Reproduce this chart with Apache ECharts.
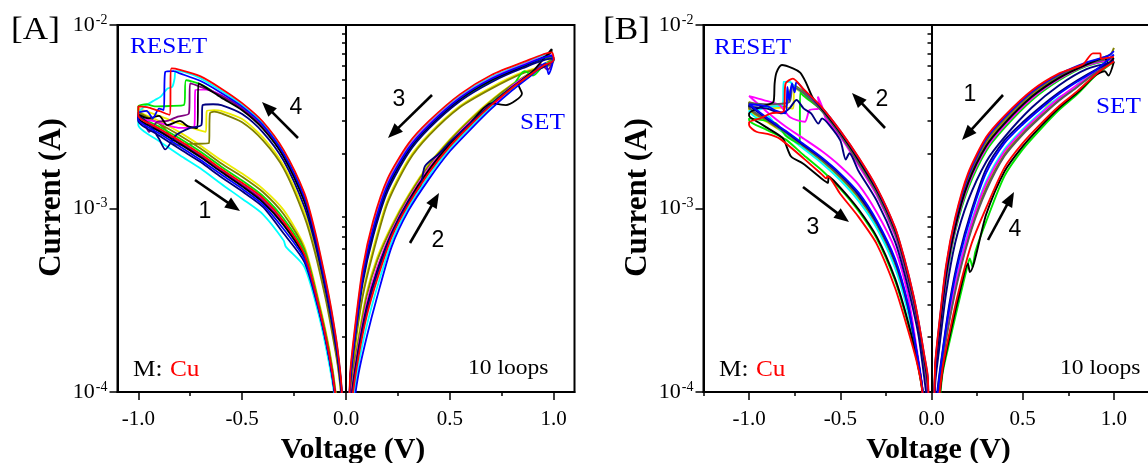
<!DOCTYPE html>
<html><head><meta charset="utf-8">
<script src="https://cdn.jsdelivr.net/npm/echarts@6/dist/echarts.min.js"></script>
<style>html,body{margin:0;padding:0;background:#fff}#c{width:1148px;height:463px}</style>
</head><body><div id="c"></div>
<script>
// ---- tick values ----
const xTicks = [-1.0, -0.5, 0.0, 0.5, 1.0];
const xMinorA = [-0.75, -0.25, 0.25, 0.75];
const xMinorB = [-1.25, -0.75, -0.25, 0.25, 0.75, 1.25];
const yTicks = [1e-4, 1e-3, 1e-2];
const yMinor = [2e-4,3e-4,4e-4,5e-4,6e-4,7e-4,8e-4,9e-4,2e-3,3e-3,4e-3,5e-3,6e-3,7e-3,8e-3,9e-3];

// ---- panel A loops: [voltage V, current mA] ----
const aRed = [[0.01,0.03],[0.03,0.09],[0.06,0.155],[0.1,0.26],[0.15,0.41],[0.22,0.7],[0.3,1.05],[0.4,1.57],[0.5,2.18],[0.6,2.86],[0.7,3.66],[0.8,4.54],[0.9,5.48],[0.95,6.0],[1.0,6.45],
[0.99,7.1],[0.85,6.25],[0.7,5.34],[0.55,4.2],[0.4,3.0],[0.3,2.25],[0.2,1.45],[0.13,0.85],[0.08,0.47],[0.04,0.21],[0.02,0.125],[0.005,0.03],
[-0.008,0.03],[-0.02,0.1],[-0.04,0.17],[-0.07,0.28],[-0.1,0.42],[-0.15,0.76],[-0.2,1.21],[-0.3,2.08],[-0.4,2.97],[-0.5,3.75],[-0.6,4.5],[-0.7,5.25],[-0.8,5.7],[-0.84,5.8],[-0.85,3.24],[-0.9,3.4],[-0.95,3.55],[-1.0,3.6],
[-1.0,3.2],[-0.9,2.73],[-0.8,2.34],[-0.7,1.98],[-0.6,1.64],[-0.5,1.38],[-0.4,1.14],[-0.3,0.85],[-0.2,0.56],[-0.13,0.29],[-0.08,0.158],[-0.05,0.094],[-0.01,0.03]];
const aCyan = [[0.01,0.03],[0.03,0.08],[0.06,0.14],[0.1,0.23],[0.15,0.372],[0.22,0.658],[0.3,1.01],[0.4,1.51],[0.5,2.12],[0.6,2.78],[0.7,3.58],[0.8,4.47],[0.9,5.44],[0.95,6.1],[1.0,6.36],
[0.98,6.95],[0.85,6.13],[0.7,5.21],[0.55,4.11],[0.4,2.93],[0.3,2.18],[0.2,1.39],[0.13,0.81],[0.08,0.45],[0.04,0.2],[0.02,0.12],[0.005,0.03],
[-0.008,0.03],[-0.02,0.099],[-0.04,0.167],[-0.07,0.274],[-0.1,0.411],[-0.15,0.742],[-0.2,1.18],[-0.3,2.04],[-0.4,2.91],[-0.5,3.67],[-0.6,4.38],[-0.7,5.12],[-0.78,5.55],[-0.82,5.6],[-0.825,5.12],[-0.836,4.61],[-0.86,4.5],[-0.892,4.07],[-0.92,3.9],[-0.948,3.74],[-0.97,3.6],[-1.0,3.3],
[-1.0,2.85],[-0.9,2.33],[-0.8,1.95],[-0.7,1.65],[-0.6,1.36],[-0.5,1.13],[-0.4,0.93],[-0.3,0.67],[-0.29,0.62],[-0.2,0.48],[-0.13,0.26],[-0.08,0.14],[-0.05,0.085],[-0.01,0.03]];
const aBlue = [[0.01,0.03],[0.03,0.07],[0.06,0.125],[0.1,0.2],[0.15,0.33],[0.22,0.62],[0.3,0.97],[0.4,1.45],[0.5,2.05],[0.6,2.7],[0.7,3.5],[0.8,4.4],[0.9,5.4],[0.96,6.2],[0.975,5.4],[0.995,6.3],
[0.99,6.8],[0.85,6.01],[0.7,5.09],[0.55,4.01],[0.4,2.85],[0.3,2.12],[0.2,1.34],[0.13,0.77],[0.08,0.43],[0.04,0.19],[0.02,0.117],[0.005,0.03],
[-0.008,0.03],[-0.02,0.097],[-0.04,0.164],[-0.07,0.268],[-0.1,0.4],[-0.15,0.724],[-0.2,1.15],[-0.3,1.99],[-0.4,2.85],[-0.5,3.59],[-0.6,4.26],[-0.7,4.95],[-0.8,5.45],[-0.83,5.6],[-0.87,5.55],[-0.878,3.44],[-0.9,3.5],[-0.93,3.1],[-0.96,3.4],[-1.0,3.3],
[-1.0,3.06],[-0.9,2.57],[-0.8,2.18],[-0.7,1.84],[-0.6,1.53],[-0.5,1.28],[-0.4,1.05],[-0.3,0.77],[-0.2,0.53],[-0.13,0.28],[-0.08,0.152],[-0.05,0.09],[-0.01,0.03]];
const aGreen = [[0.01,0.03],[0.03,0.1],[0.06,0.174],[0.1,0.297],[0.15,0.467],[0.22,0.744],[0.3,1.106],[0.4,1.645],[0.5,2.26],[0.6,2.96],[0.7,3.76],[0.8,4.63],[0.86,5.6],[0.9,5.3],[0.95,6.0],[1.0,6.5],
[0.99,6.65],[0.85,5.89],[0.7,4.96],[0.55,3.92],[0.4,2.78],[0.3,2.05],[0.2,1.28],[0.13,0.72],[0.08,0.41],[0.04,0.19],[0.02,0.112],[0.005,0.03],
[-0.008,0.03],[-0.02,0.095],[-0.04,0.16],[-0.07,0.259],[-0.1,0.389],[-0.15,0.697],[-0.2,1.1],[-0.3,1.93],[-0.4,2.75],[-0.5,3.47],[-0.6,4.08],[-0.7,4.75],[-0.77,5.0],[-0.78,3.66],[-0.85,3.62],[-0.92,3.6],[-0.96,3.7],[-1.0,3.6],
[-1.0,3.26],[-0.9,2.8],[-0.8,2.41],[-0.7,2.04],[-0.6,1.69],[-0.5,1.42],[-0.4,1.17],[-0.3,0.88],[-0.2,0.58],[-0.13,0.295],[-0.08,0.16],[-0.05,0.095],[-0.01,0.03]];
const aMagenta = [[0.01,0.03],[0.03,0.105],[0.06,0.178],[0.1,0.305],[0.15,0.477],[0.22,0.753],[0.3,1.117],[0.4,1.66],[0.5,2.28],[0.6,2.98],[0.65,3.3],[0.68,3.65],[0.72,3.75],[0.8,4.65],[0.9,5.54],[1.0,6.51],
[0.99,6.85],[0.85,6.05],[0.7,5.13],[0.55,4.04],[0.4,2.88],[0.3,2.14],[0.2,1.36],[0.13,0.78],[0.08,0.44],[0.04,0.2],[0.02,0.118],[0.005,0.03],
[-0.008,0.03],[-0.02,0.096],[-0.04,0.161],[-0.07,0.262],[-0.1,0.393],[-0.15,0.706],[-0.2,1.12],[-0.3,1.95],[-0.4,2.78],[-0.5,3.51],[-0.6,4.14],[-0.67,4.45],[-0.725,4.42],[-0.73,2.8],[-0.8,2.75],[-0.86,2.85],[-0.93,3.0],[-1.0,3.1],
[-1.0,3.17],[-0.9,2.7],[-0.8,2.31],[-0.7,1.95],[-0.6,1.62],[-0.5,1.36],[-0.4,1.12],[-0.3,0.83],[-0.2,0.56],[-0.13,0.287],[-0.08,0.156],[-0.05,0.093],[-0.01,0.03]];
const aPurple = [[0.01,0.03],[0.03,0.095],[0.06,0.163],[0.1,0.275],[0.15,0.435],[0.22,0.715],[0.3,1.075],[0.4,1.6],[0.5,2.215],[0.6,2.9],[0.7,3.7],[0.8,4.58],[0.9,5.5],[0.94,6.1],[0.97,5.7],[1.0,6.6],
[0.99,6.75],[0.85,5.97],[0.7,5.05],[0.55,3.98],[0.4,2.83],[0.3,2.09],[0.2,1.32],[0.13,0.75],[0.08,0.42],[0.04,0.19],[0.02,0.115],[0.005,0.03],
[-0.008,0.03],[-0.02,0.096],[-0.04,0.16],[-0.07,0.26],[-0.1,0.39],[-0.15,0.7],[-0.2,1.11],[-0.3,1.94],[-0.4,2.77],[-0.5,3.5],[-0.6,4.12],[-0.7,4.6],[-0.75,4.81],[-0.756,3.3],[-0.81,3.17],[-0.86,3.0],[-0.908,2.97],[-0.948,2.62],[-0.97,2.9],[-1.0,3.05],
[-1.0,3.15],[-0.9,2.67],[-0.8,2.28],[-0.7,1.93],[-0.6,1.6],[-0.5,1.34],[-0.4,1.1],[-0.3,0.82],[-0.2,0.55],[-0.13,0.285],[-0.08,0.155],[-0.05,0.092],[-0.01,0.03]];
const aBlack = [[0.01,0.03],[0.03,0.1],[0.06,0.17],[0.1,0.29],[0.15,0.456],[0.22,0.734],[0.3,1.096],[0.4,1.63],[0.5,2.25],[0.6,2.94],[0.7,3.74],[0.77,3.66],[0.847,4.24],[0.83,4.72],[0.9,5.6],[0.99,7.4],
[0.99,7.2],[0.85,5.93],[0.7,5.0],[0.55,3.95],[0.4,2.8],[0.3,2.07],[0.2,1.3],[0.13,0.74],[0.08,0.41],[0.04,0.19],[0.02,0.114],[0.005,0.03],
[-0.008,0.03],[-0.02,0.094],[-0.04,0.158],[-0.07,0.256],[-0.1,0.384],[-0.15,0.688],[-0.2,1.09],[-0.3,1.91],[-0.4,2.72],[-0.5,3.43],[-0.6,4.02],[-0.68,4.6],[-0.71,4.81],[-0.716,2.74],[-0.76,2.8],[-0.8,3.0],[-0.86,2.85],[-0.9,3.2],[-0.95,3.1],[-1.0,3.25],
[-1.0,3.12],[-0.9,2.64],[-0.8,2.25],[-0.7,1.9],[-0.6,1.58],[-0.5,1.32],[-0.4,1.08],[-0.3,0.81],[-0.2,0.54],[-0.13,0.283],[-0.08,0.154],[-0.05,0.092],[-0.01,0.03]];
const aNavy = [[0.01,0.03],[0.03,0.0975],[0.06,0.166],[0.1,0.282],[0.15,0.445],[0.22,0.725],[0.3,1.086],[0.36,1.35],[0.38,1.7],[0.45,2.0],[0.5,2.3],[0.6,2.92],[0.7,3.72],[0.8,4.59],[0.9,5.51],[1.0,6.47],
[0.99,6.55],[0.85,5.81],[0.7,4.88],[0.55,3.85],[0.4,2.73],[0.3,2.0],[0.2,1.24],[0.13,0.7],[0.08,0.39],[0.04,0.185],[0.02,0.11],[0.005,0.03],
[-0.008,0.03],[-0.02,0.091],[-0.04,0.152],[-0.07,0.244],[-0.1,0.366],[-0.15,0.652],[-0.2,1.02],[-0.3,1.82],[-0.4,2.6],[-0.5,3.27],[-0.6,3.66],[-0.64,3.7],[-0.69,3.66],[-0.696,2.85],[-0.75,2.75],[-0.82,2.5],[-0.87,2.1],[-0.9,2.4],[-0.95,2.9],[-1.0,3.2],
[-1.0,3.0],[-0.9,2.5],[-0.8,2.11],[-0.7,1.79],[-0.6,1.48],[-0.5,1.24],[-0.4,1.02],[-0.3,0.73],[-0.2,0.51],[-0.13,0.276],[-0.08,0.151],[-0.05,0.09],[-0.01,0.03]];
const aYellow = [[0.01,0.03],[0.03,0.12],[0.06,0.2],[0.1,0.35],[0.15,0.54],[0.22,0.81],[0.3,1.18],[0.4,1.75],[0.5,2.38],[0.6,3.1],[0.7,3.9],[0.8,4.75],[0.9,5.6],[1.0,6.6],
[0.99,6.2],[0.85,5.53],[0.7,4.58],[0.55,3.63],[0.4,2.55],[0.3,1.85],[0.2,1.11],[0.13,0.6],[0.08,0.34],[0.04,0.17],[0.02,0.1],[0.005,0.03],
[-0.008,0.03],[-0.02,0.087],[-0.04,0.144],[-0.07,0.229],[-0.1,0.344],[-0.15,0.607],[-0.2,0.95],[-0.3,1.71],[-0.4,2.44],[-0.5,3.07],[-0.6,3.4],[-0.635,3.44],[-0.67,3.4],[-0.675,2.62],[-0.72,2.7],[-0.8,2.9],[-0.9,3.2],[-1.0,3.5],
[-1.0,3.44],[-0.9,3.0],[-0.8,2.6],[-0.7,2.2],[-0.6,1.83],[-0.5,1.55],[-0.4,1.28],[-0.3,0.98],[-0.2,0.62],[-0.13,0.31],[-0.08,0.17],[-0.05,0.1],[-0.01,0.03]];
const aOlive = [[0.01,0.03],[0.03,0.115],[0.06,0.19],[0.1,0.335],[0.15,0.52],[0.22,0.79],[0.3,1.16],[0.4,1.72],[0.5,2.35],[0.6,3.06],[0.7,3.86],[0.8,4.72],[0.9,5.58],[1.0,6.57],
[0.99,6.1],[0.85,5.45],[0.7,4.5],[0.55,3.57],[0.4,2.5],[0.3,1.8],[0.2,1.07],[0.13,0.57],[0.08,0.33],[0.04,0.165],[0.02,0.097],[0.005,0.03],
[-0.008,0.03],[-0.02,0.085],[-0.04,0.14],[-0.07,0.22],[-0.1,0.33],[-0.15,0.58],[-0.2,0.9],[-0.3,1.65],[-0.4,2.35],[-0.5,2.95],[-0.6,3.3],[-0.635,3.37],[-0.655,3.3],[-0.66,2.27],[-0.74,2.25],[-0.82,2.22],[-0.86,2.62],[-0.9,2.9],[-0.95,3.1],[-1.0,3.3],
[-1.0,3.35],[-0.9,2.9],[-0.8,2.5],[-0.7,2.12],[-0.6,1.76],[-0.5,1.49],[-0.4,1.23],[-0.3,0.93],[-0.2,0.6],[-0.13,0.3],[-0.08,0.166],[-0.05,0.098],[-0.01,0.03]];

// ---- panel B loops: [voltage V, current mA] ----
const bRed = [[1.0,6.7],[0.93,6.55],[0.925,7.0],[0.885,7.0],[0.83,6.1],[0.7,5.45],[0.55,4.4],[0.4,3.2],[0.3,2.45],[0.2,1.55],[0.13,0.89],[0.08,0.49],[0.04,0.225],[0.02,0.14],[0.005,0.03],
[-0.005,0.03],[-0.02,0.12],[-0.04,0.16],[-0.07,0.24],[-0.1,0.34],[-0.15,0.54],[-0.2,0.79],[-0.3,1.3],[-0.4,1.9],[-0.5,2.65],[-0.6,3.55],[-0.7,4.45],[-0.76,5.1],[-0.8,4.8],[-0.81,3.4],[-0.88,3.3],[-0.94,3.1],[-1.0,2.95],
[-1.0,2.85],[-0.96,2.62],[-0.9,2.55],[-0.834,2.41],[-0.7,1.87],[-0.6,1.53],[-0.577,1.46],[-0.57,1.5],[-0.5,1.2],[-0.4,0.9],[-0.3,0.64],[-0.2,0.37],[-0.13,0.22],[-0.08,0.145],[-0.05,0.1],[-0.01,0.03],
[0.01,0.03],[0.03,0.067],[0.06,0.133],[0.1,0.214],[0.15,0.358],[0.22,0.644],[0.3,1.01],[0.4,1.67],[0.5,2.27],[0.6,2.9],[0.7,3.62],[0.8,4.36],[0.9,5.38],[1.0,6.32]];
const bBlack = [[1.0,6.6],[0.97,6.2],[0.95,6.6],[0.85,6.08],[0.7,5.15],[0.55,4.06],[0.4,2.9],[0.3,2.19],[0.2,1.37],[0.13,0.79],[0.08,0.432],[0.04,0.201],[0.02,0.128],[0.005,0.03],
[-0.005,0.03],[-0.02,0.112],[-0.04,0.152],[-0.07,0.232],[-0.1,0.328],[-0.15,0.522],[-0.2,0.764],[-0.3,1.26],[-0.4,1.84],[-0.5,2.59],[-0.6,3.48],[-0.65,4.0],[-0.69,4.9],[-0.72,5.5],[-0.76,5.8],[-0.82,6.05],[-0.85,5.5],[-0.86,4.81],[-0.866,3.82],[-0.93,3.6],[-1.0,3.3],
[-1.0,3.2],[-0.95,2.95],[-0.9,2.75],[-0.815,2.41],[-0.77,1.92],[-0.705,1.76],[-0.6,1.45],[-0.567,1.38],[-0.565,1.5],[-0.5,1.3],[-0.4,0.99],[-0.3,0.7],[-0.2,0.416],[-0.13,0.244],[-0.08,0.15],[-0.05,0.101],[-0.01,0.03],
[0.01,0.03],[0.03,0.064],[0.06,0.129],[0.1,0.202],[0.15,0.334],[0.2,0.5],[0.21,0.45],[0.3,0.93],[0.4,1.59],[0.5,2.18],[0.6,2.81],[0.7,3.54],[0.8,4.28],[0.9,5.34],[0.95,5.6],[0.97,5.3],[1.0,6.31]];
const bBlue = [[1.0,7.2],[0.97,6.8],[0.85,6.25],[0.7,5.38],[0.55,4.32],[0.4,3.13],[0.3,2.39],[0.2,1.5],[0.13,0.87],[0.08,0.475],[0.04,0.22],[0.02,0.137],[0.005,0.03],
[-0.005,0.03],[-0.02,0.118],[-0.04,0.158],[-0.07,0.238],[-0.1,0.337],[-0.15,0.535],[-0.2,0.783],[-0.3,1.29],[-0.4,1.89],[-0.5,2.64],[-0.6,3.53],[-0.7,4.43],[-0.74,4.9],[-0.75,4.3],[-0.765,4.8],[-0.78,3.9],[-0.79,4.6],[-0.8,3.3],[-0.85,3.4],[-0.9,3.6],[-1.0,3.7],
[-1.0,3.7],[-0.9,3.11],[-0.8,2.65],[-0.7,2.24],[-0.6,1.89],[-0.5,1.55],[-0.4,1.22],[-0.3,0.857],[-0.2,0.531],[-0.13,0.304],[-0.08,0.163],[-0.05,0.104],[-0.01,0.03],
[0.01,0.03],[0.03,0.091],[0.06,0.161],[0.1,0.298],[0.15,0.526],[0.22,0.938],[0.3,1.57],[0.4,2.27],[0.5,2.87],[0.6,3.51],[0.7,4.22],[0.8,4.92],[0.9,5.66],[1.0,6.9]];
const bGreen = [[1.0,6.5],[0.85,5.97],[0.7,5.0],[0.55,3.89],[0.4,2.75],[0.3,2.06],[0.2,1.28],[0.13,0.75],[0.08,0.403],[0.04,0.189],[0.02,0.122],[0.005,0.03],
[-0.005,0.03],[-0.02,0.104],[-0.04,0.144],[-0.07,0.224],[-0.1,0.316],[-0.15,0.504],[-0.2,0.738],[-0.3,1.22],[-0.4,1.78],[-0.5,2.53],[-0.6,3.41],[-0.7,4.1],[-0.72,4.3],[-0.723,2.25],[-0.76,2.35],[-0.8,2.5],[-0.85,2.9],[-0.9,3.0],[-1.0,3.1],
[-1.0,3.03],[-0.9,2.67],[-0.8,2.38],[-0.7,1.95],[-0.6,1.61],[-0.5,1.28],[-0.4,0.97],[-0.3,0.686],[-0.2,0.405],[-0.13,0.238],[-0.08,0.149],[-0.05,0.1],[-0.01,0.03],
[0.01,0.03],[0.03,0.06],[0.06,0.125],[0.1,0.19],[0.15,0.31],[0.2,0.5],[0.21,0.535],[0.225,0.48],[0.24,0.58],[0.3,0.85],[0.4,1.5],[0.5,2.1],[0.6,2.72],[0.7,3.45],[0.8,4.2],[0.9,5.3],[1.0,6.3]];
const bMagenta = [[1.0,6.55],[0.85,6.03],[0.7,5.08],[0.55,3.98],[0.4,2.83],[0.3,2.13],[0.2,1.33],[0.13,0.77],[0.08,0.418],[0.04,0.195],[0.02,0.125],[0.005,0.03],
[-0.005,0.03],[-0.02,0.096],[-0.04,0.136],[-0.07,0.216],[-0.1,0.304],[-0.15,0.486],[-0.2,0.712],[-0.3,1.18],[-0.4,1.72],[-0.5,2.47],[-0.58,3.1],[-0.6,3.6],[-0.623,4.07],[-0.614,3.52],[-0.668,3.44],[-0.695,2.97],[-0.775,3.14],[-0.833,3.66],[-0.92,3.9],[-1.0,4.1],
[-1.0,4.07],[-0.9,3.35],[-0.8,2.8],[-0.7,2.4],[-0.6,2.05],[-0.5,1.7],[-0.4,1.35],[-0.3,0.95],[-0.2,0.6],[-0.13,0.34],[-0.08,0.17],[-0.05,0.105],[-0.01,0.03],
[0.01,0.03],[0.03,0.083],[0.06,0.151],[0.1,0.268],[0.15,0.466],[0.22,0.833],[0.3,1.37],[0.4,2.05],[0.5,2.65],[0.6,3.29],[0.7,4.0],[0.8,4.72],[0.9,5.56],[1.0,6.37]];
const bCyan = [[1.0,6.53],[0.85,6.0],[0.7,5.04],[0.55,3.93],[0.4,2.79],[0.3,2.09],[0.2,1.3],[0.13,0.76],[0.08,0.41],[0.04,0.19],[0.02,0.124],[0.005,0.03],
[-0.005,0.03],[-0.02,0.1],[-0.04,0.14],[-0.07,0.22],[-0.1,0.31],[-0.15,0.495],[-0.2,0.725],[-0.3,1.2],[-0.4,1.75],[-0.5,2.5],[-0.6,3.38],[-0.7,4.23],[-0.75,4.6],[-0.778,4.91],[-0.81,4.9],[-0.815,3.66],[-0.87,3.6],[-0.95,3.45],[-1.0,3.4],
[-1.0,3.4],[-0.95,3.1],[-0.9,3.2],[-0.85,2.8],[-0.8,2.53],[-0.7,2.11],[-0.6,1.76],[-0.5,1.425],[-0.4,1.1],[-0.3,0.78],[-0.2,0.474],[-0.13,0.274],[-0.08,0.156],[-0.05,0.102],[-0.01,0.03],
[0.01,0.03],[0.03,0.085],[0.06,0.153],[0.1,0.274],[0.15,0.478],[0.22,0.854],[0.3,1.41],[0.4,2.1],[0.5,2.7],[0.6,3.34],[0.7,4.05],[0.76,4.3],[0.8,4.76],[0.9,5.58],[1.0,6.37]];
const bYellow = [[1.0,6.65],[0.85,6.14],[0.7,5.23],[0.55,4.15],[0.4,2.98],[0.3,2.26],[0.2,1.42],[0.13,0.82],[0.08,0.447],[0.04,0.207],[0.02,0.131],[0.005,0.03],
[-0.005,0.03],[-0.02,0.106],[-0.04,0.146],[-0.07,0.226],[-0.1,0.319],[-0.15,0.508],[-0.2,0.745],[-0.3,1.23],[-0.4,1.8],[-0.5,2.545],[-0.6,3.43],[-0.7,4.2],[-0.75,4.5],[-0.76,3.5],[-0.8,3.55],[-0.9,3.5],[-1.0,3.6],
[-1.0,3.46],[-0.9,2.95],[-0.8,2.55],[-0.7,2.14],[-0.6,1.79],[-0.5,1.45],[-0.4,1.13],[-0.3,0.795],[-0.2,0.485],[-0.13,0.28],[-0.08,0.158],[-0.05,0.103],[-0.01,0.03],
[0.01,0.03],[0.03,0.081],[0.06,0.149],[0.1,0.262],[0.15,0.454],[0.22,0.812],[0.3,1.33],[0.4,2.01],[0.5,2.61],[0.6,3.25],[0.64,3.7],[0.7,3.96],[0.8,4.68],[0.9,5.54],[1.0,6.36]];
const bOlive = [[1.0,7.5],[0.98,6.9],[0.85,6.19],[0.7,5.3],[0.55,4.23],[0.4,3.05],[0.3,2.32],[0.2,1.46],[0.13,0.84],[0.08,0.46],[0.04,0.213],[0.02,0.134],[0.005,0.03],
[-0.005,0.03],[-0.02,0.108],[-0.04,0.148],[-0.07,0.228],[-0.1,0.322],[-0.15,0.513],[-0.2,0.751],[-0.3,1.24],[-0.4,1.81],[-0.5,2.56],[-0.6,3.45],[-0.7,4.31],[-0.76,4.7],[-0.78,4.2],[-0.8,3.6],[-0.9,3.6],[-1.0,3.8],
[-1.0,3.52],[-0.9,2.99],[-0.8,2.575],[-0.7,2.16],[-0.6,1.82],[-0.5,1.48],[-0.4,1.15],[-0.3,0.81],[-0.2,0.497],[-0.13,0.286],[-0.08,0.159],[-0.05,0.103],[-0.01,0.03],
[0.01,0.03],[0.03,0.079],[0.06,0.147],[0.1,0.256],[0.15,0.442],[0.22,0.791],[0.3,1.29],[0.4,1.97],[0.5,2.57],[0.6,3.2],[0.7,3.92],[0.8,4.64],[0.9,5.52],[1.0,6.36]];
const bNavy = [[1.0,6.3],[0.85,5.75],[0.7,4.7],[0.55,3.55],[0.4,2.45],[0.3,1.8],[0.2,1.1],[0.13,0.65],[0.08,0.345],[0.04,0.165],[0.02,0.11],[0.005,0.03],
[-0.005,0.03],[-0.02,0.08],[-0.04,0.12],[-0.07,0.2],[-0.1,0.28],[-0.15,0.45],[-0.2,0.66],[-0.3,1.1],[-0.4,1.6],[-0.45,2.0],[-0.47,1.85],[-0.5,2.35],[-0.56,2.85],[-0.6,3.1],[-0.62,2.9],[-0.66,3.3],[-0.7,3.5],[-0.74,3.9],[-0.78,3.5],[-0.82,3.3],[-0.9,3.5],[-1.0,3.6],
[-1.0,3.64],[-0.9,3.07],[-0.8,2.625],[-0.7,2.21],[-0.6,1.87],[-0.5,1.53],[-0.4,1.19],[-0.3,0.84],[-0.2,0.52],[-0.13,0.298],[-0.08,0.161],[-0.05,0.103],[-0.01,0.03],
[0.01,0.03],[0.03,0.095],[0.06,0.165],[0.1,0.31],[0.15,0.55],[0.22,0.98],[0.3,1.65],[0.4,2.35],[0.5,2.95],[0.6,3.6],[0.7,4.3],[0.8,5.0],[0.9,5.7],[1.0,6.4]];
const bGray = [[1.0,6.63],[0.85,6.11],[0.7,5.19],[0.55,4.1],[0.4,2.94],[0.3,2.22],[0.2,1.39],[0.13,0.81],[0.08,0.44],[0.04,0.204],[0.02,0.13],[0.005,0.03],
[-0.005,0.03],[-0.02,0.102],[-0.04,0.142],[-0.07,0.222],[-0.1,0.313],[-0.15,0.5],[-0.2,0.731],[-0.3,1.21],[-0.4,1.765],[-0.5,2.515],[-0.6,3.39],[-0.7,4.25],[-0.76,4.6],[-0.78,3.8],[-0.9,3.7],[-1.0,3.75],
[-1.0,3.58],[-0.9,3.03],[-0.8,2.6],[-0.7,2.19],[-0.6,1.84],[-0.5,1.5],[-0.4,1.17],[-0.3,0.826],[-0.2,0.508],[-0.13,0.292],[-0.08,0.16],[-0.05,0.103],[-0.01,0.03],
[0.01,0.03],[0.03,0.078],[0.06,0.145],[0.1,0.25],[0.15,0.43],[0.22,0.77],[0.3,1.25],[0.4,1.93],[0.5,2.53],[0.6,3.16],[0.7,3.88],[0.8,4.6],[0.9,5.5],[1.0,6.35]];

const loopsA = [
  {d: aYellow, c: '#ecec00'}, {d: aOlive, c: '#808000'}, {d: aCyan, c: '#00ffff'}, {d: aGreen, c: '#00e600'},
  {d: aMagenta, c: '#ff00ff'}, {d: aPurple, c: '#800080'}, {d: aBlack, c: '#000000'}, {d: aNavy, c: '#000080'},
  {d: aBlue, c: '#0000ff'}, {d: aRed, c: '#ff0000'}
];
const loopsB = [
  {d: bYellow, c: '#ecec00'}, {d: bOlive, c: '#808000'}, {d: bCyan, c: '#00ffff'}, {d: bGreen, c: '#00e600'},
  {d: bMagenta, c: '#ff00ff'}, {d: bGray, c: '#5a5a5a'}, {d: bBlack, c: '#000000'}, {d: bNavy, c: '#000080'},
  {d: bBlue, c: '#0000ff'}, {d: bRed, c: '#ff0000'}
];

const SERIF = 'Liberation Serif';
function xMajor(gi, min, max) {
  return {
    type: 'value', gridIndex: gi, min: min, max: max, position: 'bottom',
    axisLine: {show: true, onZero: false, lineStyle: {color: '#000', width: 2}},
    axisTick: {show: true, customValues: xTicks, length: 8, lineStyle: {color: '#000', width: 1.5}},
    axisLabel: {customValues: xTicks, formatter: v => v.toFixed(1), fontFamily: SERIF, fontSize: 21, color: '#000', margin: 17},
    splitLine: {show: false},
    name: 'Voltage (V)', nameLocation: 'middle', nameGap: 36,
    nameTextStyle: {fontFamily: SERIF, fontWeight: 'bold', fontSize: 30, color: '#000', padding: [0, 0, 0, 14]}
  };
}
function xMinor(gi, min, max, vals) {
  return {
    type: 'value', gridIndex: gi, min: min, max: max, position: 'bottom',
    axisLine: {show: false}, axisLabel: {show: false, customValues: vals}, splitLine: {show: false},
    axisTick: {show: true, customValues: vals, length: 4, lineStyle: {color: '#000', width: 1.5}}
  };
}
function yMajor(gi) {
  return {
    type: 'log', logBase: 10, gridIndex: gi, min: 1e-4, max: 1e-2, position: 'left',
    axisLine: {show: true, onZero: false, lineStyle: {color: '#000', width: 2}},
    axisTick: {show: true, customValues: yTicks, length: 8, lineStyle: {color: '#000', width: 1.5}},
    axisLabel: {
      customValues: yTicks, margin: 10,
      formatter: v => '{b|10}{s|' + Math.round(Math.log10(v)) + '}',
      rich: {
        b: {fontFamily: SERIF, fontSize: 22, color: '#000', lineHeight: 24},
        s: {fontFamily: SERIF, fontSize: 14, color: '#000', verticalAlign: 'top', padding: [0, 0, 0, 1]}
      }
    },
    splitLine: {show: false}, minorTick: {show: false},
    name: 'Current (A)', nameLocation: 'middle', nameGap: 50, nameRotate: 90,
    nameTextStyle: {fontFamily: SERIF, fontWeight: 'bold', fontSize: 31, color: '#000', padding: [0, 0, 0, 22]}
  };
}
function yMinorAxis(gi) {
  return {
    type: 'log', logBase: 10, gridIndex: gi, min: 1e-4, max: 1e-2, position: 'left',
    axisLine: {show: false}, axisLabel: {show: false, customValues: yMinor}, splitLine: {show: false},
    axisTick: {show: true, customValues: yMinor, length: 4, lineStyle: {color: '#000', width: 1.5}}
  };
}

function mkSeries(loops, xi, yi, width) {
  return loops.map((L, i) => {
    const s = {
      type: 'line', xAxisIndex: xi, yAxisIndex: yi,
      data: L.d.map(p => [p[0], p[1] / 1000]),
      showSymbol: false, symbol: 'none', smooth: 0.25, clip: true, silent: true,
      lineStyle: {color: L.c, width: width}, itemStyle: {color: L.c}, z: 3
    };
    if (i === 0) {
      s.markLine = {silent: true, symbol: ['none', 'none'], label: {show: false}, animation: false,
        lineStyle: {color: '#000', width: 2, type: 'solid'}, data: [{xAxis: 0}]};
    }
    return s;
  });
}

function arrow(x1, y1, x2, y2) {
  const dx = x2 - x1, dy = y2 - y1, L = Math.hypot(dx, dy), ux = dx / L, uy = dy / L;
  const hl = 15, hw = 6;
  const bx = x2 - ux * hl, by = y2 - uy * hl;
  return [
    {type: 'line', shape: {x1: x1, y1: y1, x2: bx + ux * 2, y2: by + uy * 2}, style: {stroke: '#000', lineWidth: 2.6}, z: 10},
    {type: 'polygon', shape: {points: [[x2, y2], [bx - uy * hw, by + ux * hw], [bx + uy * hw, by - ux * hw]]}, style: {fill: '#000'}, z: 10}
  ];
}
function txt(x, y, t, size, color, opts) {
  opts = opts || {};
  return {type: 'text', x: x, y: y, scaleX: opts.sx || 1, z: 10,
    style: {text: t, fill: color, font: (opts.w || 'normal') + ' ' + size + 'px "' + (opts.f || SERIF) + '"',
      textAlign: opts.a || 'left', textVerticalAlign: 'middle'}};
}
const SANS = 'Liberation Sans';

const graphics = [
  txt(11, 31, '[A]', 32, '#000', {sx: 1.1}),
  txt(603, 31, '[B]', 32, '#000', {sx: 1.1}),
  txt(130, 47, 'RESET', 23, '#0000ff', {sx: 1.1}),
  txt(520, 123, 'SET', 23, '#0000ff', {sx: 1.1}),
  txt(714, 48, 'RESET', 23, '#0000ff', {sx: 1.1}),
  txt(1096, 107, 'SET', 23, '#0000ff', {sx: 1.1}),
  txt(133, 370, 'M:', 23, '#000', {sx: 1.1}),
  txt(170, 370, 'Cu', 23, '#ff0000', {sx: 1.1}),
  txt(719, 370, 'M:', 23, '#000', {sx: 1.1}),
  txt(756, 370, 'Cu', 23, '#ff0000', {sx: 1.1}),
  txt(468, 368, '10 loops', 22, '#000', {sx: 1.07}),
  txt(1060, 368, '10 loops', 22, '#000', {sx: 1.07}),
  txt(296, 108, '4', 23, '#000', {f: SANS, a: 'center'}),
  txt(205, 212, '1', 23, '#000', {f: SANS, a: 'center'}),
  txt(399, 100, '3', 23, '#000', {f: SANS, a: 'center'}),
  txt(438, 241, '2', 23, '#000', {f: SANS, a: 'center'}),
  txt(882, 100, '2', 23, '#000', {f: SANS, a: 'center'}),
  txt(813, 228, '3', 23, '#000', {f: SANS, a: 'center'}),
  txt(970, 95, '1', 23, '#000', {f: SANS, a: 'center'}),
  txt(1015, 230, '4', 23, '#000', {f: SANS, a: 'center'})
].concat(
  arrow(298, 138, 262, 102), arrow(195, 180, 240, 211),
  arrow(432, 95, 388, 138), arrow(410, 243, 439, 193),
  arrow(885, 128, 852, 93), arrow(803, 187, 849, 222),
  arrow(1003, 95, 962, 140), arrow(988, 240, 1014, 192)
);

const chart = echarts.init(document.getElementById('c'), null, {renderer: 'canvas'});
chart.setOption({
  animation: false,
  backgroundColor: '#ffffff',
  grid: [
    {left: 117.5, top: 25, width: 457, height: 367, outerBoundsMode: 'none', containLabel: false,
     show: true, borderColor: '#000', borderWidth: 2, backgroundColor: 'transparent'},
    {left: 703.5, top: 25, width: 456, height: 367, outerBoundsMode: 'none', containLabel: false,
     show: true, borderColor: '#000', borderWidth: 2, backgroundColor: 'transparent'}
  ],
  xAxis: [xMajor(0, -1.1, 1.1), xMinor(0, -1.1, 1.1, xMinorA), xMajor(1, -1.25, 1.25), xMinor(1, -1.25, 1.25, xMinorB)],
  yAxis: [yMajor(0), yMinorAxis(0), yMajor(1), yMinorAxis(1)],
  series: mkSeries(loopsA, 0, 0, 1.8).concat(mkSeries(loopsB, 2, 2, 1.9)),
  graphic: graphics
});
</script>
</body></html>
